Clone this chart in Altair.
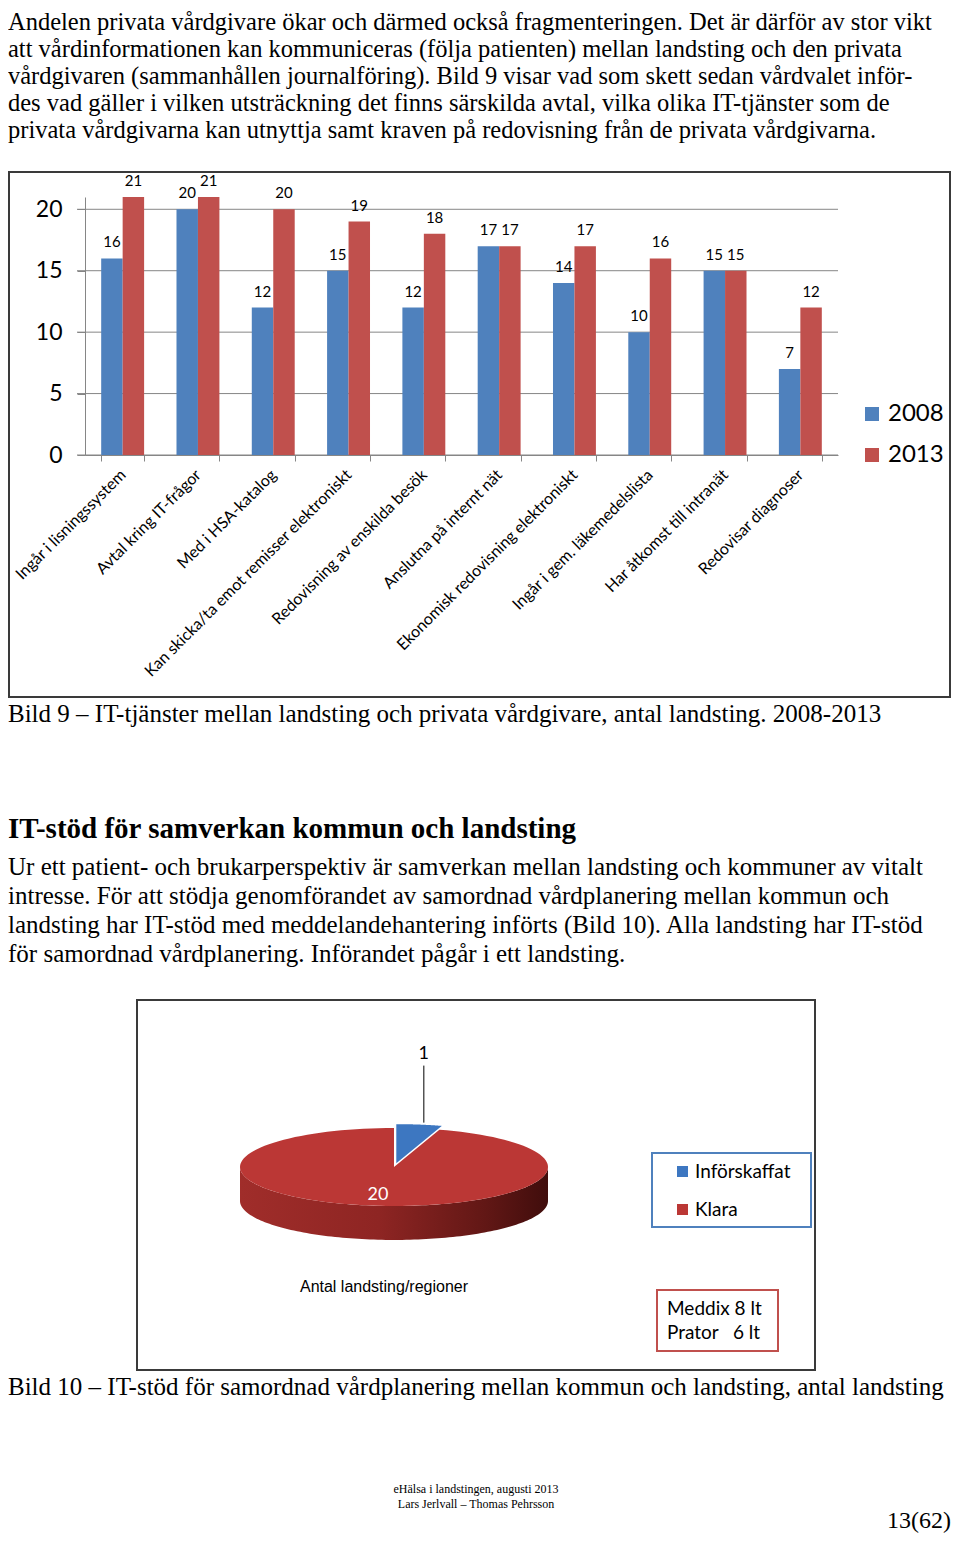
import altair as alt

# ---------------- data ----------------
para1_lines = [
    "Andelen privata vårdgivare ökar och därmed också fragmenteringen. Det är därför av stor vikt",
    "att vårdinformationen kan kommuniceras (följa patienten) mellan landsting och den privata",
    "vårdgivaren (sammanhållen journalföring). Bild 9 visar vad som skett sedan vårdvalet inför-",
    "des vad gäller i vilken utsträckning det finns särskilda avtal, vilka olika IT-tjänster som de",
    "privata vårdgivarna kan utnyttja samt kraven på redovisning från de privata vårdgivarna.",
]
caption1 = "Bild 9 – IT-tjänster mellan landsting och privata vårdgivare, antal landsting. 2008-2013"
heading2 = "IT-stöd för samverkan kommun och landsting"
para2_lines = [
    "Ur ett patient- och brukarperspektiv är samverkan mellan landsting och kommuner av vitalt",
    "intresse. För att stödja genomförandet av samordnad vårdplanering mellan kommun och",
    "landsting har IT-stöd med meddelandehantering införts (Bild 10).  Alla landsting har IT-stöd",
    "för samordnad vårdplanering. Införandet pågår i ett landsting.",
]
caption2 = "Bild 10 – IT-stöd för samordnad vårdplanering mellan kommun och landsting, antal landsting"
footer_lines = ["eHälsa i landstingen, augusti 2013", "Lars Jerlvall – Thomas Pehrsson"]
page_no = "13(62)"

categories = [
    "Ingår i lisningssystem",
    "Avtal kring IT-frågor",
    "Med i HSA-katalog",
    "Kan skicka/ta emot remisser elektroniskt",
    "Redovisning av enskilda besök",
    "Anslutna på internt nät",
    "Ekonomisk redovisning elektroniskt",
    "Ingår i gem. läkemedelslista",
    "Har åtkomst till intranät",
    "Redovisar diagnoser",
]
years = ["2008", "2013"]
values_2008 = [16, 20, 12, 15, 12, 17, 14, 10, 15, 7]
values_2013 = [21, 21, 20, 19, 18, 17, 17, 16, 15, 12]
y_ticks = [0, 5, 10, 15, 20]

pie_labels = ["Införskaffat", "Klara"]
pie_values = [1, 20]
pie_title = "Antal landsting/regioner"
note_lines = ["Meddix 8 lt", "Prator\u00a0\u00a0\u00a06 lt"]

# ---------------- helpers ----------------
ONE = alt.Data(values=[{"k": 0}])
SERIF = "Liberation Serif"


def text_block(lines, x, y, size, font=SERIF, weight="normal", align="left", lh=None, color="black"):
    txt = lines if isinstance(lines, str) else (lines if len(lines) > 1 else lines[0])
    return alt.Chart(ONE).mark_text(
        text=txt, align=align, baseline="alphabetic", font=font, fontSize=size,
        fontWeight=weight, lineHeight=lh or round(size * 1.2), color=color,
    ).encode(x=alt.value(x), y=alt.value(y))


def box(x1, y1, x2, y2, color, width=2):
    return alt.Chart(ONE).mark_rect(fill="transparent", stroke=color, strokeWidth=width).encode(
        x=alt.value(x1), x2=alt.value(x2), y=alt.value(y1), y2=alt.value(y2)
    )


# ---------------- bar chart ----------------
bar_rows = [
    {"kategori": c, "år": yr, "antal": v}
    for yr, vals in zip(years, [values_2008, values_2013])
    for c, v in zip(categories, vals)
]
AXC = "#868686"
x_enc = alt.X(
    "kategori:N", sort=categories, title=None,
    scale=alt.Scale(range=[77, 830], paddingInner=0.43, paddingOuter=0.215),
    axis=alt.Axis(orient="bottom", offset=-1078, tickBand="extent", tickSize=6, tickColor=AXC,
                  domainColor=AXC, labelAngle=-45, labelAlign="right", labelBaseline="middle",
                  labelFont="Lato", labelFontSize=16, labelColor="black", labelPadding=11,
                  labelLimit=500, labelOverlap=False, grid=False),
)
y_enc = alt.Y(
    "antal:Q", title=None,
    scale=alt.Scale(domain=[0, 21], range=[447, 189], nice=False, zero=True),
    axis=alt.Axis(orient="left", offset=-77, values=y_ticks, tickSize=8, tickColor=AXC,
                  domainColor=AXC, labelFont="Lato", labelFontSize=23, labelColor="black",
                  labelPadding=15, grid=False),
)
xo_enc = alt.XOffset("år:N", sort=years, scale=alt.Scale(paddingInner=0, paddingOuter=0))

grid = alt.Chart(alt.Data(values=[{"antal": t} for t in y_ticks])).mark_rule(
    color=AXC, strokeWidth=1
).encode(y=y_enc, x=alt.value(69), x2=alt.value(830))

bar_base = alt.Chart(alt.Data(values=bar_rows)).encode(x=x_enc, xOffset=xo_enc, y=y_enc)
bars = bar_base.mark_bar().encode(
    color=alt.Color(
        "år:N", sort=years,
        scale=alt.Scale(domain=years, range=["#4F81BD", "#C0504D"]),
        legend=alt.Legend(title=None, orient="none", legendX=852, legendY=394, symbolType="square",
                          symbolSize=196, symbolStrokeWidth=0, labelFont="Lato", labelFontSize=24,
                          labelColor="black", rowPadding=17, labelOffset=4, padding=0),
    )
)
bar_values = bar_base.mark_text(font="Lato", fontSize=15, color="black", dy=-16).encode(text="antal:Q")
bar_layer = alt.layer(grid, bars, bar_values)

# ---------------- 3D pie ----------------
EXPLODE = 0.1
DEPTH = 0.87
N = 120
pie_rows = [{"del": l, "antal": v, "ordning": i} for i, (l, v) in enumerate(zip(pie_labels, pie_values))]


def px_enc(field):
    return alt.X(f"{field}:Q", scale=alt.Scale(domain=[-1, 1], range=[232, 540], nice=False, zero=False), axis=None)


def py_enc(field):
    return alt.Y(f"{field}:Q", scale=alt.Scale(domain=[-1, 1], range=[1120, 1198], nice=False, zero=False), axis=None)


pie_base = (
    alt.Chart(alt.Data(values=pie_rows))
    .transform_joinaggregate(total="sum(antal)")
    .transform_window(cum="sum(antal)", sort=[alt.SortField("ordning")], frame=[None, 0])
    .transform_calculate(
        a0="2*PI*(datum.cum - datum.antal)/datum.total",
        a1="2*PI*datum.cum/datum.total",
        frac="datum.antal/datum.total",
    )
    .transform_calculate(mid="(datum.a0 + datum.a1)/2")
    .transform_calculate(
        ex=f"datum.ordning == 0 ? {EXPLODE}*sin(datum.mid) : 0",
        ey=f"datum.ordning == 0 ? -{EXPLODE}*cos(datum.mid) : 0",
    )
)

pie_color = alt.Color(
    "del:N", sort=pie_labels,
    scale=alt.Scale(domain=pie_labels, range=["#3D77C1", "#BB3735"]),
    legend=alt.Legend(title=None, orient="none", legendX=665, legendY=1154, symbolType="square",
                      symbolSize=121, symbolStrokeWidth=0, labelFont="Lato", labelFontSize=19,
                      labelColor="black", rowPadding=18, labelOffset=3, padding=0),
)

side_gradient = alt.LinearGradient(
    gradient="linear", x1=0, x2=1, y1=0, y2=0,
    stops=[
        alt.GradientStop(color="#A02D2A", offset=0),
        alt.GradientStop(color="#8E2523", offset=0.45),
        alt.GradientStop(color="#611715", offset=0.8),
        alt.GradientStop(color="#400D0C", offset=1),
    ],
)

# side wall: closed polygon = front arc of the top rim, then the same arc lowered by DEPTH (reversed)
side = (
    pie_base.transform_calculate(s0="max(datum.a0, PI/2)", s1="min(datum.a1, 3*PI/2)")
    .transform_filter("datum.s1 > datum.s0")
    .transform_calculate(steps=f"sequence(0, {2 * N + 2})")
    .transform_flatten(["steps"])
    .transform_calculate(
        ang=f"datum.steps <= {N} ? datum.s0 + (datum.s1 - datum.s0)*datum.steps/{N}"
            f" : datum.s1 - (datum.s1 - datum.s0)*(datum.steps - {N + 1})/{N}",
        low=f"datum.steps <= {N} ? 0 : {DEPTH}",
    )
    .transform_calculate(
        px="datum.ex + sin(datum.ang)",
        py="datum.ey - cos(datum.ang) + datum.low",
    )
    .mark_line(filled=True, interpolate="linear-closed", strokeWidth=0, color=side_gradient)
    .encode(x=px_enc("px"), y=py_enc("py"), order="steps:Q")
)

top_face = (
    pie_base.transform_calculate(steps=f"sequence(-1, {N + 1})")
    .transform_flatten(["steps"])
    .transform_calculate(ang=f"datum.a0 + (datum.a1 - datum.a0)*max(datum.steps, 0)/{N}")
    .transform_calculate(
        px="datum.steps < 0 ? datum.ex : datum.ex + sin(datum.ang)",
        py="datum.steps < 0 ? datum.ey : datum.ey - cos(datum.ang)",
    )
    .mark_line(filled=True, interpolate="linear-closed", strokeWidth=0)
    .encode(x=px_enc("px"), y=py_enc("py"), order="steps:Q", color=pie_color, detail="del:N")
)

pie_lab_base = pie_base.transform_calculate(
    lx="datum.frac < 0.1 ? datum.ex + 1.2*sin(datum.mid) : datum.ex + 0.7*sin(datum.mid)",
    ly="datum.frac < 0.1 ? -2.9 : datum.ey - 0.72*cos(datum.mid)",
    ltop="-2.6",
    lend="datum.ey - cos(datum.mid) - 0.05",
)
inside_labels = pie_lab_base.transform_filter("datum.frac >= 0.1").mark_text(
    font="Lato", fontSize=18, color="white", baseline="middle"
).encode(x=px_enc("lx"), y=py_enc("ly"), text="antal:Q")
outside_labels = pie_lab_base.transform_filter("datum.frac < 0.1").mark_text(
    font="Lato", fontSize=18, color="black", baseline="middle"
).encode(x=px_enc("lx"), y=py_enc("ly"), text="antal:Q")
leaders = pie_lab_base.transform_filter("datum.frac < 0.1").mark_rule(color="black", strokeWidth=1).encode(
    x=px_enc("lx"), y=py_enc("ltop"), y2="lend:Q"
)
pie_layer = alt.layer(side, top_face, leaders, inside_labels, outside_labels)

# ---------------- page texts & frames ----------------
layers = [
    box(1, 164, 942, 689, "#3A3A3A"),
    box(129, 992, 807, 1362, "#3A3A3A"),
    box(644, 1145, 803, 1219, "#4F81BD"),
    box(649, 1282, 770, 1343, "#C0504D"),
    text_block(para1_lines, 0, 22, 24.5, lh=27),
    text_block(caption1, 0, 714, 25),
    text_block(heading2, 0, 830, 29, weight="bold"),
    text_block(para2_lines, 0, 867, 25, lh=29),
    text_block(caption2, 0, 1387, 25),
    text_block(footer_lines, 468, 1485, 12, align="center", lh=15),
    text_block(page_no, 943, 1520, 24, align="right"),
    text_block(pie_title, 376, 1284, 16, font="Liberation Sans", align="center"),
    text_block(note_lines, 659, 1307, 19, font="Lato", lh=24),
    bar_layer,
    pie_layer,
]

chart = (
    alt.layer(*layers)
    .resolve_scale(x="independent", y="independent", color="independent")
    .properties(width=944, height=1525, padding=0, autosize=alt.AutoSizeParams(type="none"),
                background="white")
    .configure_view(stroke="transparent")
)

chart.save("out.html", embed_options={"renderer": "svg", "actions": False})
